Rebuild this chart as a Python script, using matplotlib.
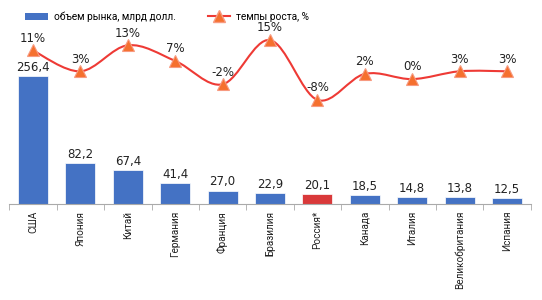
import matplotlib
matplotlib.use("Agg")
import matplotlib.pyplot as plt
import numpy as np
from matplotlib.path import Path
from matplotlib.patches import PathPatch, Patch
from matplotlib.lines import Line2D

categories = ["США", "Япония", "Китай", "Германия", "Франция", "Бразилия",
              "Россия*", "Канада", "Италия", "Великобритания", "Испания"]
market = [256.4, 82.2, 67.4, 41.4, 27.0, 22.9, 20.1, 18.5, 14.8, 13.8, 12.5]
growth = [11, 3, 13, 7, -2, 15, -8, 2, 0, 3, 3]
highlight = "Россия*"

bar_blue = "#4472C4"
bar_red = "#D9393A"
line_red = "#EE3A35"
marker_orange = "#F5702E"

plt.rcParams['font.family'] = ['DejaVu Sans']
fig = plt.figure(figsize=(5.42, 3.0), dpi=100)
ax = fig.add_axes([9.3/542, 1 - 204/300, (530.7-9.3)/542, 204/300])
x = np.arange(len(categories))
colors = [bar_red if c == highlight else bar_blue for c in categories]
bars = ax.bar(x, market, width=0.63, color=colors, edgecolor="white", linewidth=0.5, zorder=2)
for xi, v in zip(x, market):
    ax.text(xi, v + 4, f"{v:.1f}".replace(".", ","), ha="center", va="bottom",
            fontsize=8.5, color="#222222")
ax.set_xlim(-0.5, len(categories) - 0.5)
ax.set_ylim(0, 408)
ax.set_yticks([])
for s in ["top", "right", "left"]:
    ax.spines[s].set_visible(False)
ax.spines["bottom"].set_color("#AAAAAA")
ax.set_xticks(x)
ax.set_xticklabels(categories, rotation=90, fontsize=7.2, color="#222222", family="Roboto")
ax.tick_params(axis="x", which="major", length=0, pad=5)
ax.set_xticks(np.arange(-0.5, len(categories), 1), minor=True)
ax.tick_params(axis="x", which="minor", length=4, color="#AAAAAA")

ax2 = ax.twinx()
ax2.set_ylim(-48, 30.4)
ax2.axis("off")
pts = np.column_stack([x, growth]).astype(float)
verts = [tuple(pts[0])]
codes = [Path.MOVETO]
n = len(pts)
for i in range(n - 1):
    p0 = pts[i - 1] if i > 0 else pts[i]
    p1 = pts[i]
    p2 = pts[i + 1]
    p3 = pts[i + 2] if i + 2 < n else pts[i + 1]
    c1 = p1 + (p2 - p0) / 6.0
    c2 = p2 - (p3 - p1) / 6.0
    verts += [tuple(c1), tuple(c2), tuple(p2)]
    codes += [Path.CURVE4] * 3
ax2.add_patch(PathPatch(Path(verts, codes), facecolor="none", edgecolor=line_red, lw=1.5, zorder=3))
ax2.plot(x, growth, linestyle="none", marker="^", markersize=8,
         markerfacecolor=marker_orange, markeredgecolor="#F79A80", markeredgewidth=0.8, zorder=4)
for xi, g in zip(x, growth):
    ax2.text(xi, g + 2.2, f"{g}%", ha="center", va="bottom", fontsize=8.5, color="#222222")

handles = [Patch(facecolor=bar_blue, edgecolor="none"),
           Line2D([0], [0], color=line_red, lw=1.5, marker="^", markersize=8,
                  markerfacecolor=marker_orange, markeredgecolor="#F79A80")]
fig.legend(handles, ["объем рынка, млрд долл.", "темпы роста, %"], loc="upper left",
           bbox_to_anchor=(0.03, 0.992), ncol=2, frameon=False,
           prop={"family": "Roboto", "size": 7.3},
           columnspacing=3.2, handlelength=2.2, handletextpad=0.6)

fig.savefig("out.png", dpi=100)
